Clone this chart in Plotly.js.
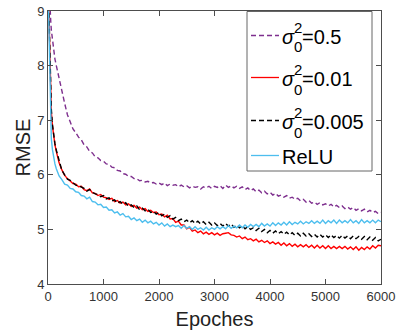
<!DOCTYPE html>
<html><head><meta charset="utf-8">
<script src="https://cdn.plot.ly/plotly-3.0.1.min.js"></script>
<style>html,body{margin:0;padding:0;background:#fff}#plot{width:396px;height:332px}</style>
</head><body><div id="plot"></div>
<script>
const epochs = [0,10,20,30,40,50,60,80,100,125,150,
200,250,300,350,400,450,500,550,600,650,700,750,800,850,900,950,1000,
1050,1100,1150,1200,1250,1300,1350,1400,1450,1500,1550,1600,1650,1700,1750,1800,1850,1900,1950,2000,
2050,2100,2150,2200,2250,2300,2350,2400,2450,2500,2550,2600,2650,2700,2750,2800,2850,2900,2950,3000,
3050,3100,3150,3200,3250,3300,3350,3400,3450,3500,3550,3600,3650,3700,3750,3800,3850,3900,3950,4000,
4050,4100,4150,4200,4250,4300,4350,4400,4450,4500,4550,4600,4650,4700,4750,4800,4850,4900,4950,5000,
5050,5100,5150,5200,5250,5300,5350,5400,5450,5500,5550,5600,5650,5700,5750,5800,5850,5900,5950,6000];

const sigma05 = [9.9,9.6,9.3,9.1,8.95,8.8,8.65,8.45,8.3,8.12,8.0,
7.75,7.52,7.31,7.1,6.97,6.84,6.77,6.69,6.64,6.55,6.51,6.43,6.40,6.33,6.31,6.26,6.25,
6.20,6.19,6.14,6.13,6.08,6.07,6.02,6.01,5.97,5.97,5.93,5.93,5.89,5.90,5.87,5.88,5.85,5.86,5.83,5.85,
5.82,5.85,5.80,5.83,5.81,5.82,5.78,5.81,5.78,5.80,5.76,5.79,5.77,5.78,5.74,5.78,5.76,5.79,5.75,5.79,
5.77,5.80,5.75,5.81,5.77,5.80,5.76,5.79,5.75,5.78,5.73,5.76,5.71,5.74,5.69,5.72,5.67,5.70,5.65,5.68,
5.63,5.66,5.61,5.63,5.59,5.62,5.57,5.59,5.55,5.57,5.52,5.55,5.50,5.53,5.48,5.50,5.46,5.49,5.45,5.47,
5.43,5.46,5.41,5.44,5.40,5.43,5.38,5.41,5.37,5.40,5.35,5.38,5.34,5.37,5.32,5.35,5.31,5.33,5.29,5.31];

const sigma001 = [9.6,9.2,8.6,8.1,7.7,7.4,7.15,6.9,6.72,6.55,6.43,
6.22,6.09,5.99,5.93,5.89,5.84,5.83,5.78,5.79,5.73,5.71,5.74,5.67,5.66,5.62,5.64,5.59,
5.58,5.55,5.57,5.51,5.53,5.48,5.50,5.45,5.47,5.42,5.44,5.39,5.41,5.36,5.38,5.33,5.35,5.31,5.32,5.27,
5.28,5.23,5.26,5.19,5.20,5.13,5.15,5.08,5.08,5.01,5.04,4.97,4.99,4.94,4.97,4.92,4.95,4.91,4.94,4.90,
4.93,4.89,4.92,4.93,4.94,4.90,4.89,4.86,4.88,4.83,4.86,4.81,4.83,4.79,4.82,4.77,4.80,4.76,4.79,4.74,
4.77,4.73,4.76,4.71,4.75,4.70,4.74,4.69,4.73,4.68,4.72,4.68,4.72,4.67,4.71,4.66,4.71,4.66,4.70,4.65,
4.70,4.65,4.69,4.65,4.69,4.65,4.69,4.64,4.68,4.63,4.68,4.62,4.67,4.63,4.68,4.64,4.70,4.66,4.71,4.70];

const sigma0005 = [9.7,9.3,8.7,8.15,7.75,7.45,7.2,6.92,6.74,6.57,6.45,
6.24,6.08,6.00,5.92,5.90,5.85,5.81,5.80,5.77,5.75,5.70,5.73,5.68,5.65,5.64,5.60,5.62,
5.56,5.58,5.52,5.54,5.48,5.51,5.46,5.49,5.42,5.45,5.40,5.43,5.36,5.39,5.34,5.37,5.31,5.33,5.28,5.31,
5.25,5.28,5.22,5.25,5.19,5.22,5.16,5.19,5.14,5.17,5.12,5.16,5.11,5.15,5.10,5.14,5.09,5.13,5.08,5.12,
5.07,5.11,5.06,5.11,5.06,5.10,5.04,5.08,5.03,5.07,5.01,5.05,5.00,5.03,4.98,5.02,4.96,5.00,4.94,4.98,
4.93,4.97,4.92,4.96,4.91,4.95,4.90,4.94,4.89,4.93,4.88,4.93,4.88,4.92,4.87,4.91,4.86,4.91,4.86,4.90,
4.85,4.90,4.85,4.89,4.84,4.89,4.84,4.88,4.83,4.88,4.83,4.87,4.82,4.87,4.81,4.86,4.80,4.85,4.79,4.82];

const relu = [9.5,9.0,8.2,7.6,7.1,6.85,6.66,6.46,6.33,6.2,6.11,
5.98,5.91,5.83,5.81,5.75,5.74,5.69,5.68,5.62,5.61,5.56,5.59,5.51,5.50,5.45,5.46,5.40,
5.41,5.35,5.36,5.30,5.32,5.26,5.29,5.23,5.24,5.18,5.21,5.16,5.19,5.13,5.17,5.12,5.15,5.10,5.13,5.08,
5.12,5.06,5.10,5.05,5.08,5.05,5.07,5.02,5.07,5.02,5.05,5.00,5.05,5.00,5.03,4.99,5.04,4.99,5.03,5.00,
5.05,5.01,5.05,5.01,5.07,5.02,5.06,5.03,5.08,5.03,5.08,5.04,5.09,5.05,5.09,5.05,5.11,5.06,5.10,5.06,
5.12,5.07,5.12,5.08,5.13,5.08,5.14,5.09,5.13,5.10,5.15,5.10,5.14,5.11,5.16,5.11,5.15,5.11,5.17,5.11,
5.16,5.12,5.17,5.11,5.17,5.12,5.16,5.12,5.18,5.12,5.16,5.11,5.18,5.12,5.16,5.12,5.17,5.12,5.17,5.14];

const xTicks = [0,1000,2000,3000,4000,5000,6000];
const yTicks = [4,5,6,7,8,9];

const seriesNames = ['0.5', '0.01', '0.005', 'ReLU'];
const seriesColors = ['#7E2F8E', '#FF0000', '#000000', '#4DBEEE'];
const seriesDash = ['5px,3px', 'solid', '5px,3px', 'solid'];
const seriesData = [sigma05, sigma001, sigma0005, relu];

const traces = seriesData.map((d, i) => ({
  x: epochs, y: d, mode: 'lines', showlegend: false,
  name: seriesNames[i],
  line: {color: seriesColors[i], width: 1.4, dash: seriesDash[i]}
}));

// pixel -> paper helpers for the hand-made legend (plot area: x 48..381, y 11..284)
const PL = 48, PR = 381, PT = 11, PB = 284;
const px = p => (p - PL) / (PR - PL);
const py = p => (PB - p) / (PB - PT);

const FONT = 'Liberation Sans, Arial, sans-serif';
const rowY = [37, 79, 122, 157];
const shapes = [
  {type:'rect', xref:'paper', yref:'paper', x0:px(247), x1:px(372), y0:py(171), y1:py(11.5),
   line:{color:'#666', width:1}, fillcolor:'#fff', layer:'above'}
];
const annotations = [];
rowY.forEach((yc, i) => {
  shapes.push({type:'line', xref:'paper', yref:'paper', x0:px(251), x1:px(279), y0:py(yc-1.5), y1:py(yc-1.5),
    line:{color:seriesColors[i], width:1.3, dash:seriesDash[i]}, layer:'above'});
  if (i < 3) {
    annotations.push({xref:'paper', yref:'paper', x:px(280), y:py(yc), xanchor:'left', yanchor:'middle',
      text:'<i>σ</i>', showarrow:false, font:{family:FONT, size:20, color:'#000'}});
    annotations.push({xref:'paper', yref:'paper', x:px(292), y:py(yc-10), xanchor:'left', yanchor:'middle',
      text:'2', showarrow:false, font:{family:FONT, size:15, color:'#000'}});
    annotations.push({xref:'paper', yref:'paper', x:px(292), y:py(yc+10), xanchor:'left', yanchor:'middle',
      text:'0', showarrow:false, font:{family:FONT, size:15, color:'#000'}});
    annotations.push({xref:'paper', yref:'paper', x:px(300), y:py(yc), xanchor:'left', yanchor:'middle',
      text:'=' + seriesNames[i], showarrow:false, font:{family:FONT, size:20, color:'#000'}});
  } else {
    annotations.push({xref:'paper', yref:'paper', x:px(280), y:py(yc), xanchor:'left', yanchor:'middle',
      text:seriesNames[i], showarrow:false, font:{family:FONT, size:20, color:'#000'}});
  }
});

const axisCommon = {
  showline:true, linecolor:'#4d4d4d', linewidth:1, mirror:'ticks',
  ticks:'inside', ticklen:5, tickcolor:'#4d4d4d', showgrid:false, zeroline:false,
  tickfont:{family:FONT, size:13, color:'#333'}
};

const layout = {
  width:396, height:332,
  margin:{l:PL, r:396-PR, t:PT, b:332-PB},
  paper_bgcolor:'#fff', plot_bgcolor:'#fff',
  font:{family:FONT, color:'#222'},
  showlegend:false,
  xaxis: Object.assign({}, axisCommon, {range:[0,6000], tickvals:xTicks, ticktext:xTicks.map(String),
    title:{text:'Epoches', font:{size:20, color:'#222'}, standoff:9}}),
  yaxis: Object.assign({}, axisCommon, {range:[4,9], tickvals:yTicks, ticktext:yTicks.map(String),
    title:{text:'RMSE', font:{size:20, color:'#222'}, standoff:1}}),
  shapes: shapes,
  annotations: annotations
};

Plotly.newPlot('plot', traces, layout, {staticPlot:true, displayModeBar:false});
</script></body></html>
